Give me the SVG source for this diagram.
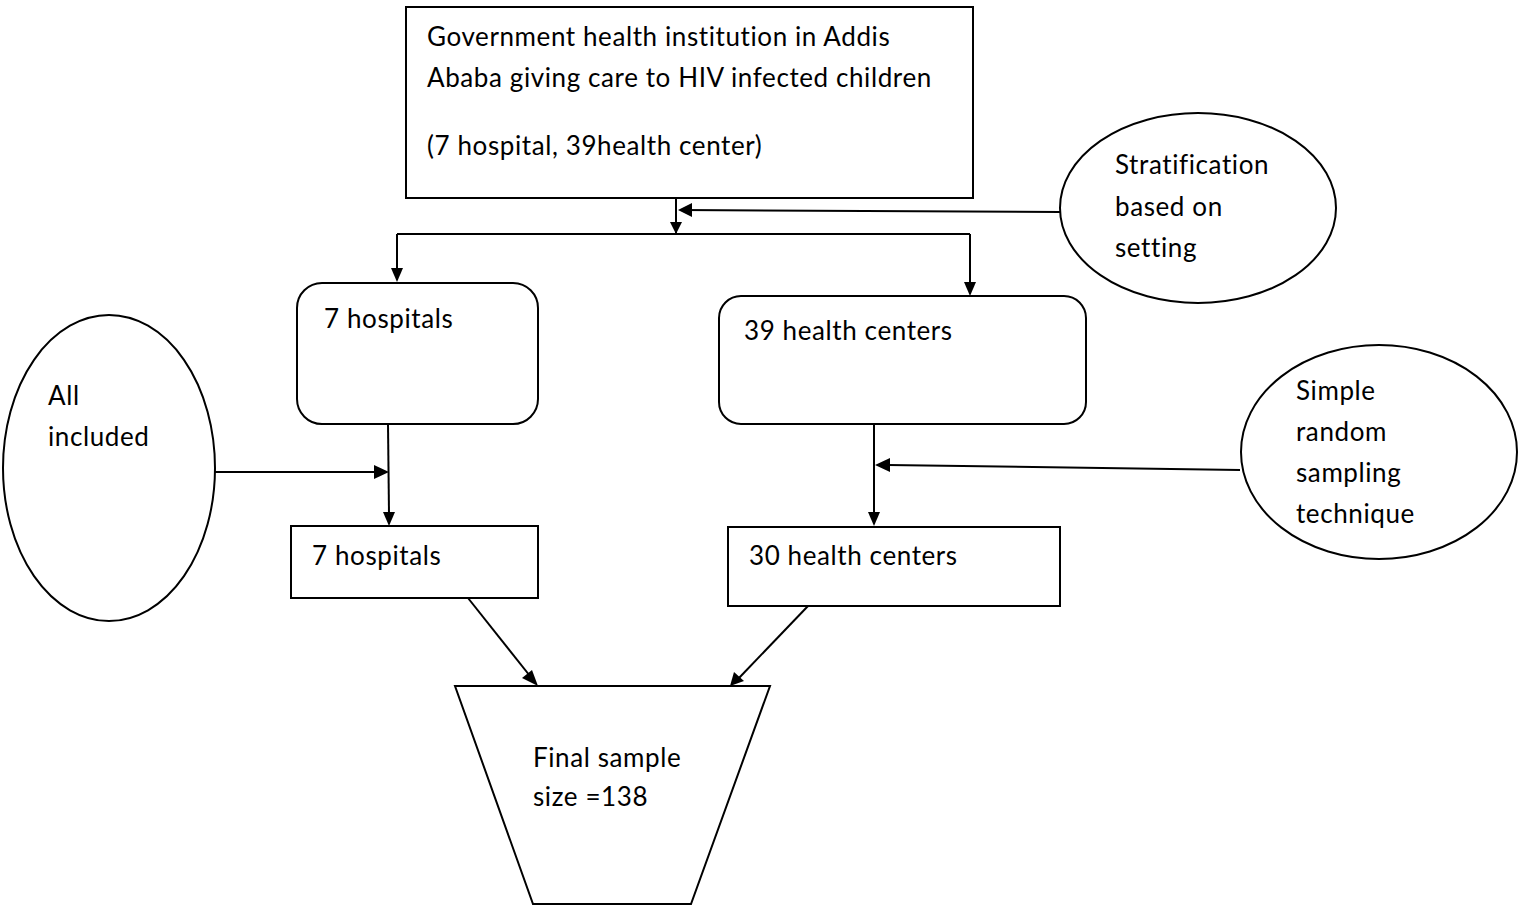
<svg xmlns="http://www.w3.org/2000/svg" width="1526" height="909" viewBox="0 0 1526 909">
<style>
.s{fill:#fff;stroke:#000;stroke-width:2}
.c{fill:none;stroke:#000;stroke-width:2}
text{font-family:Lato,"Liberation Sans",sans-serif;font-size:26px;letter-spacing:0.6px;fill:#000}
</style>
<defs>
<marker id="a" markerWidth="10" markerHeight="10" refX="9" refY="5" orient="auto" markerUnits="userSpaceOnUse" viewBox="0 0 10 10"><path d="M0,0L10,5L0,10z" fill="#000"/></marker>
</defs>
<rect width="1526" height="909" fill="#fff"/>
<g id="connectors">
<path class="c" d="M676,198V233"/>
<path d="M670,222L682,222L676,234z" fill="#000"/>
<path class="c" d="M1060,212L680,210"/>
<path d="M678,210L692,203L692,217z" fill="#000"/>
<path class="c" d="M397,234H970"/>
<path class="c" d="M397,234V270"/>
<path d="M391,268L403,268L397,282z" fill="#000"/>
<path class="c" d="M970,234V284"/>
<path d="M964,282L976,282L970,296z" fill="#000"/>
<path class="c" d="M215,472H376"/>
<path d="M374,465L389,472L374,479z" fill="#000"/>
<path class="c" d="M388,424L389,514"/>
<path d="M383,512L395,512L389,526z" fill="#000"/>
<path class="c" d="M874,424V514"/>
<path d="M868,512L880,512L874,526z" fill="#000"/>
<path class="c" d="M1240,470L888,465"/>
<path d="M875,465L890,458L890,472z" fill="#000"/>
<path class="c" d="M468,598L530,676"/>
<path d="M538,686L522,678L532,670z" fill="#000"/>
<path class="c" d="M808,606L739,678"/>
<path d="M730,686L734,672L744,681z" fill="#000"/>
</g>
<g id="top"><rect class="s" x="406" y="7" width="567" height="191"/>
<text x="427" y="46">Government health institution in Addis</text>
<text x="427" y="87">Ababa giving care to HIV infected children</text>
<text x="427" y="155">(7 hospital, 39health center)</text></g>
<g id="strat"><ellipse class="s" cx="1198" cy="208" rx="138" ry="95"/>
<text x="1115" y="174">Stratification</text>
<text x="1115" y="216">based on</text>
<text x="1115" y="257">setting</text></g>
<g id="hosp1"><rect class="s" x="297" y="283" width="241" height="141" rx="25"/>
<text x="324" y="328">7 hospitals</text></g>
<g id="hc1"><rect class="s" x="719" y="296" width="367" height="128" rx="22"/>
<text x="744" y="340">39 health centers</text></g>
<g id="all"><ellipse class="s" cx="109" cy="468" rx="106" ry="153"/>
<text x="48" y="405">All</text>
<text x="48" y="446">included</text></g>
<g id="srs"><ellipse class="s" cx="1379" cy="452" rx="138" ry="107"/>
<text x="1296" y="400">Simple</text>
<text x="1296" y="441">random</text>
<text x="1296" y="482">sampling</text>
<text x="1296" y="523">technique</text></g>
<g id="hosp2"><rect class="s" x="291" y="526" width="247" height="72"/>
<text x="312" y="565">7 hospitals</text></g>
<g id="hc2"><rect class="s" x="728" y="527" width="332" height="79"/>
<text x="749" y="565">30 health centers</text></g>
<g id="final"><path class="s" d="M455,686H770L691,904H533z"/>
<text x="533" y="767">Final sample</text>
<text x="533" y="806">size =138</text></g>
</svg>
